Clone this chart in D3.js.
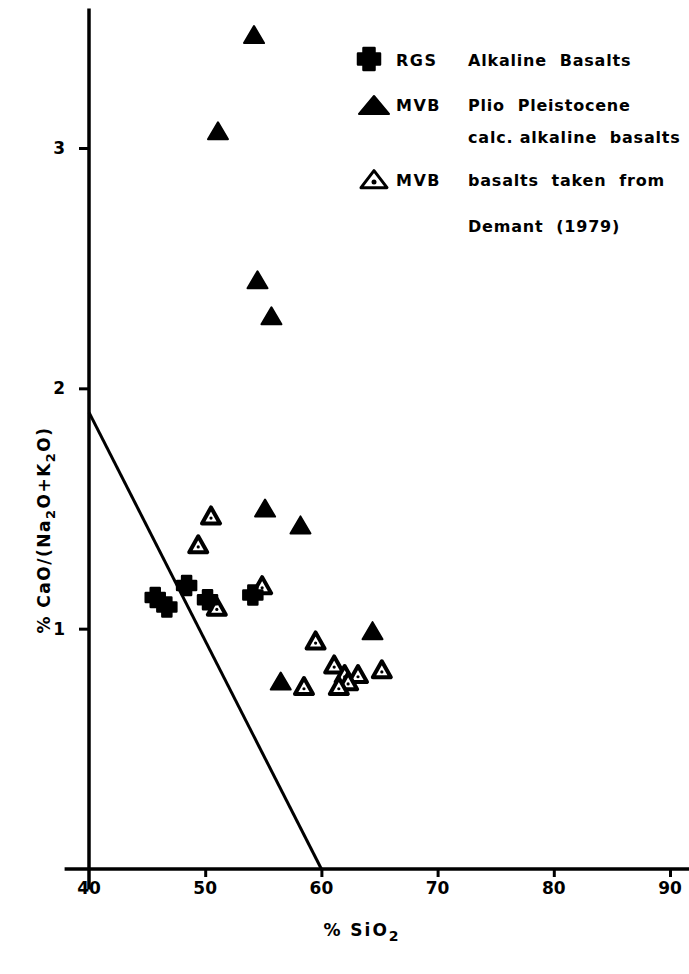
<!DOCTYPE html>
<html>
<head>
<meta charset="utf-8">
<script src="https://cdn.jsdelivr.net/npm/d3@7"></script>
<style>
  body { margin: 0; background: #fff; }
  text { font-family: "DejaVu Sans", sans-serif; font-weight: bold; fill: #000; }
</style>
</head>
<body>
<div id="chart"></div>
<script>
// Data
const rgsSiO2 = [45.7, 46.7, 48.4, 50.2, 54.1];
const rgsRatio = [1.13, 1.09, 1.18, 1.12, 1.14];

const plioSiO2 = [54.2, 51.1, 54.5, 55.7, 55.15, 58.2, 64.4, 56.5];
const plioRatio = [3.46, 3.06, 2.44, 2.29, 1.49, 1.42, 0.98, 0.77];

const demantSiO2 = [50.5, 49.4, 54.9, 51.0, 59.5, 61.1, 62.0, 63.15, 65.2, 62.3, 61.5, 58.5];
const demantRatio = [1.46, 1.34, 1.17, 1.08, 0.94, 0.84, 0.80, 0.80, 0.82, 0.77, 0.75, 0.75];

// dividing line
const lineSiO2 = [40, 60];
const lineRatio = [1.9, 0];

const xTicks = [40, 50, 60, 70, 80, 90];
const yTicks = [1, 2, 3];

const W = 689, H = 974;

const svg = d3.select("#chart")
    .append("svg")
    .attr("width", W)
    .attr("height", H);

var x = d3.scaleLinear().domain([40, 90]).range([89, 670]);
var y = d3.scaleLinear().domain([0, 3]).range([869, 148]);

// Axis lines (drawn long, as in the original)
svg.append("line")
    .attr("x1", x(40)).attr("x2", x(40))
    .attr("y1", y(3.58)).attr("y2", y(-0.085))
    .attr("stroke", "#000").attr("stroke-width", 3.5);
svg.append("line")
    .attr("x1", x(37.9)).attr("x2", W)
    .attr("y1", y(0)).attr("y2", y(0))
    .attr("stroke", "#000").attr("stroke-width", 3.5);

// X axis ticks
const xAxis = svg.append("g")
    .attr("transform", "translate(0," + y(0) + ")")
    .call(d3.axisBottom(x).tickValues(xTicks.slice(1)).tickSize(8).tickFormat(""));
xAxis.select(".domain").remove();
xAxis.selectAll(".tick line").attr("stroke", "#000").attr("stroke-width", 3);

svg.selectAll(".xlab")
    .data(xTicks)
    .enter()
    .append("text")
    .attr("x", d => x(d))
    .attr("y", 894)
    .attr("text-anchor", "middle")
    .style("font-size", "17px")
    .text(d => d);

// Y axis ticks
const yAxis = svg.append("g")
    .attr("transform", "translate(" + x(40) + ",0)")
    .call(d3.axisLeft(y).tickValues(yTicks).tickSize(10).tickPadding(14).tickFormat(d3.format("d")));
yAxis.select(".domain").remove();
yAxis.selectAll(".tick line").attr("stroke", "#000").attr("stroke-width", 3);
yAxis.selectAll(".tick text")
    .style("font-size", "17px")
    .style("font-family", "DejaVu Sans, sans-serif")
    .style("font-weight", "bold")
    .attr("fill", "#000");

// Axis titles
const xt = svg.append("text")
    .attr("x", 362)
    .attr("y", 936)
    .attr("text-anchor", "middle")
    .style("font-size", "17px")
    .style("letter-spacing", "2px");
xt.append("tspan").text("%  SiO");
xt.append("tspan").attr("dy", 5).style("font-size", "14px").text("2");

const yt = svg.append("text")
    .attr("transform", "translate(50,530) rotate(-90)")
    .attr("text-anchor", "middle")
    .style("font-size", "17px")
    .style("letter-spacing", "1.5px");
yt.append("tspan").text("% CaO/(Na");
yt.append("tspan").attr("dy", 5).style("font-size", "13px").text("2");
yt.append("tspan").attr("dy", -5).text("O+K");
yt.append("tspan").attr("dy", 5).style("font-size", "13px").text("2");
yt.append("tspan").attr("dy", -5).text("O)");

// Dividing line
svg.append("path")
    .datum(d3.zip(lineSiO2, lineRatio))
    .attr("d", d3.line().x(d => x(d[0])).y(d => y(d[1])))
    .attr("fill", "none")
    .attr("stroke", "#000")
    .attr("stroke-width", 3);

// Marker shapes
function crossPath(a, L) {
    return `M${-a},${-L}H${a}V${-a}H${L}V${a}H${a}V${L}H${-a}V${a}H${-L}V${-a}H${-a}Z`;
}
function triPath(w, h) {
    return `M0,${-h * 2 / 3}L${w / 2},${h / 3}L${-w / 2},${h / 3}Z`;
}

// Demant open triangles
const openG = svg.selectAll(".demant")
    .data(d3.zip(demantSiO2, demantRatio))
    .enter()
    .append("g")
    .attr("transform", d => "translate(" + x(d[0]) + "," + y(d[1]) + ")");
openG.append("path")
    .attr("d", triPath(18, 16))
    .attr("fill", "#fff")
    .attr("stroke", "#000")
    .attr("stroke-width", 4)
    .attr("stroke-linejoin", "round");
openG.append("circle")
    .attr("cx", 0).attr("cy", 0).attr("r", 1.6)
    .attr("fill", "#000");

// Plio-Pleistocene filled triangles
svg.selectAll(".plio")
    .data(d3.zip(plioSiO2, plioRatio))
    .enter()
    .append("path")
    .attr("transform", d => "translate(" + x(d[0]) + "," + y(d[1]) + ")")
    .attr("d", triPath(20, 17))
    .attr("fill", "#000")
    .attr("stroke", "#000")
    .attr("stroke-width", 2)
    .attr("stroke-linejoin", "round");

// RGS crosses
svg.selectAll(".rgs")
    .data(d3.zip(rgsSiO2, rgsRatio))
    .enter()
    .append("path")
    .attr("transform", d => "translate(" + x(d[0]) + "," + y(d[1]) + ")")
    .attr("d", crossPath(4.5, 9.5))
    .attr("fill", "#000")
    .attr("stroke", "#000")
    .attr("stroke-width", 2.5)
    .attr("stroke-linejoin", "round");

// Legend
const legend = svg.append("g");
const legendText = [
    ["RGS", "Alkaline  Basalts", 66],
    ["MVB", "Plio  Pleistocene", 111],
    ["", "calc. alkaline  basalts", 143],
    ["MVB", "basalts  taken  from", 186],
    ["", "Demant  (1979)", 232]
];
legend.selectAll(".lt1")
    .data(legendText.filter(d => d[0]))
    .enter()
    .append("text")
    .attr("x", 396)
    .attr("y", d => d[2])
    .style("font-size", "16px")
    .style("letter-spacing", "1.5px")
    .text(d => d[0]);
legend.selectAll(".lt2")
    .data(legendText)
    .enter()
    .append("text")
    .attr("x", 468)
    .attr("y", d => d[2])
    .style("font-size", "16px")
    .style("letter-spacing", "0.8px")
    .style("white-space", "pre")
    .text(d => d[1]);

legend.append("path")
    .attr("transform", "translate(369,59)")
    .attr("d", crossPath(5.5, 11))
    .attr("fill", "#000").attr("stroke", "#000")
    .attr("stroke-width", 2.5).attr("stroke-linejoin", "round");
legend.append("path")
    .attr("transform", "translate(374,108)")
    .attr("d", triPath(30, 18))
    .attr("fill", "#000").attr("stroke", "#000")
    .attr("stroke-width", 2).attr("stroke-linejoin", "round");
legend.append("path")
    .attr("transform", "translate(374,182)")
    .attr("d", triPath(26, 17))
    .attr("fill", "#fff").attr("stroke", "#000")
    .attr("stroke-width", 3).attr("stroke-linejoin", "round");
legend.append("circle")
    .attr("cx", 374).attr("cy", 182).attr("r", 2.5).attr("fill", "#000");
</script>
</body>
</html>
